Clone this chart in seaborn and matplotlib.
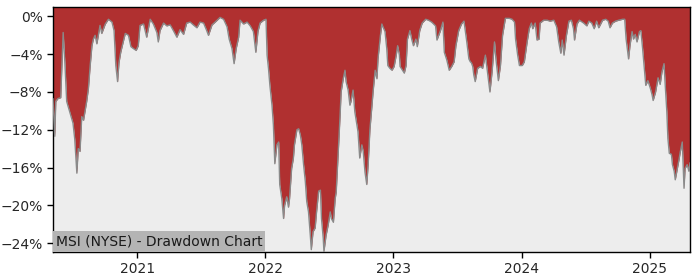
import matplotlib
matplotlib.use("Agg")
import matplotlib.pyplot as plt
import matplotlib.dates as mdates
from matplotlib.ticker import FuncFormatter
import seaborn as sns
import pandas as pd

title = "MSI (NYSE) - Drawdown Chart"

dates = [
    "2020-05-06", "2020-05-11", "2020-05-14", "2020-05-20", "2020-05-28", "2020-06-04", "2020-06-09",
    "2020-06-14", "2020-06-24", "2020-07-02", "2020-07-07", "2020-07-13", "2020-07-17", "2020-07-22",
    "2020-07-27", "2020-08-01", "2020-08-05", "2020-08-10", "2020-08-15", "2020-08-20", "2020-08-25",
    "2020-08-29", "2020-09-03", "2020-09-08", "2020-09-17", "2020-09-22", "2020-10-02", "2020-10-11",
    "2020-10-21", "2020-10-27", "2020-11-01", "2020-11-06", "2020-11-10", "2020-11-15", "2020-11-22",
    "2020-11-28", "2020-12-07", "2020-12-14", "2020-12-21", "2020-12-29",
    "2021-01-04", "2021-01-09", "2021-01-19", "2021-01-28", "2021-02-07", "2021-02-16", "2021-02-26",
    "2021-03-02", "2021-03-07", "2021-03-17", "2021-03-26", "2021-04-05", "2021-04-14", "2021-04-24",
    "2021-05-03", "2021-05-13", "2021-05-22", "2021-06-01", "2021-06-10", "2021-06-20", "2021-06-29",
    "2021-07-09", "2021-07-18", "2021-07-23", "2021-08-02", "2021-08-11", "2021-08-25", "2021-09-04",
    "2021-09-14", "2021-09-20", "2021-09-28", "2021-10-04", "2021-10-10", "2021-10-17", "2021-10-21",
    "2021-10-31", "2021-11-10", "2021-11-19", "2021-11-28", "2021-12-05", "2021-12-11", "2021-12-17",
    "2021-12-27",
    "2022-01-03", "2022-01-06", "2022-01-10", "2022-01-14", "2022-01-20", "2022-01-24", "2022-01-28",
    "2022-02-03", "2022-02-08", "2022-02-11", "2022-02-17", "2022-02-22", "2022-02-25", "2022-03-03",
    "2022-03-08", "2022-03-11", "2022-03-17", "2022-03-22", "2022-03-25", "2022-04-01", "2022-04-06",
    "2022-04-11", "2022-04-15", "2022-04-20", "2022-04-25", "2022-04-29", "2022-05-04", "2022-05-09",
    "2022-05-12", "2022-05-17", "2022-05-23", "2022-05-27", "2022-06-02", "2022-06-07", "2022-06-10",
    "2022-06-15", "2022-06-17", "2022-06-23", "2022-06-29", "2022-07-05", "2022-07-08", "2022-07-14",
    "2022-07-19", "2022-07-22", "2022-07-28", "2022-08-02", "2022-08-05", "2022-08-11", "2022-08-16",
    "2022-08-19", "2022-08-25", "2022-08-30", "2022-09-02", "2022-09-08", "2022-09-13", "2022-09-16",
    "2022-09-22", "2022-09-27", "2022-10-03", "2022-10-07", "2022-10-12", "2022-10-17", "2022-10-21",
    "2022-10-26", "2022-11-01", "2022-11-04", "2022-11-10", "2022-11-15", "2022-11-18", "2022-11-25",
    "2022-11-29", "2022-12-02", "2022-12-08", "2022-12-13", "2022-12-16", "2022-12-22", "2022-12-28",
    "2023-01-03", "2023-01-09", "2023-01-13", "2023-01-18", "2023-01-20", "2023-01-27", "2023-02-01",
    "2023-02-06", "2023-02-10", "2023-02-17", "2023-02-22", "2023-02-27", "2023-03-06", "2023-03-10",
    "2023-03-17", "2023-03-24", "2023-04-03", "2023-04-11", "2023-04-20", "2023-05-01", "2023-05-05",
    "2023-05-15", "2023-05-22", "2023-05-26", "2023-06-02", "2023-06-09", "2023-06-16", "2023-06-23",
    "2023-06-28", "2023-07-06", "2023-07-14", "2023-07-21", "2023-07-28", "2023-08-04", "2023-08-08",
    "2023-08-11", "2023-08-15", "2023-08-18", "2023-08-22", "2023-08-29", "2023-09-06", "2023-09-12",
    "2023-09-20", "2023-09-26", "2023-10-03", "2023-10-09", "2023-10-16", "2023-10-20", "2023-10-27",
    "2023-11-02", "2023-11-08", "2023-11-16", "2023-11-27", "2023-12-05", "2023-12-12", "2023-12-15",
    "2023-12-21", "2023-12-26",
    "2024-01-03", "2024-01-09", "2024-01-17", "2024-01-23", "2024-01-29", "2024-02-02", "2024-02-09",
    "2024-02-14", "2024-02-20", "2024-02-23", "2024-03-04", "2024-03-14", "2024-03-22", "2024-04-02",
    "2024-04-10", "2024-04-16", "2024-04-22", "2024-04-26", "2024-05-01", "2024-05-08", "2024-05-15",
    "2024-05-22", "2024-05-28", "2024-05-31", "2024-06-07", "2024-06-14", "2024-06-26", "2024-07-05",
    "2024-07-11", "2024-07-19", "2024-07-26", "2024-08-02", "2024-08-08", "2024-08-19", "2024-08-28",
    "2024-09-04", "2024-09-09", "2024-09-16", "2024-09-25", "2024-10-04", "2024-10-15", "2024-10-21",
    "2024-10-25", "2024-11-01", "2024-11-05", "2024-11-11", "2024-11-15", "2024-11-20", "2024-11-25",
    "2024-12-02", "2024-12-06", "2024-12-11", "2024-12-16", "2024-12-20", "2024-12-26",
    "2025-01-02", "2025-01-07", "2025-01-10", "2025-01-17", "2025-01-24", "2025-01-30", "2025-02-04",
    "2025-02-10", "2025-02-13", "2025-02-18", "2025-02-21", "2025-02-25", "2025-03-03", "2025-03-06",
    "2025-03-11", "2025-03-14", "2025-03-20", "2025-03-25", "2025-03-28", "2025-04-03", "2025-04-08",
    "2025-04-11", "2025-04-17", "2025-04-22", "2025-04-25",
]

drawdown = [
    -8.7, -12.7, -9.0, -8.7, -8.6, -1.7, -5.0,
    -9.0, -10.3, -11.3, -13.0, -16.6, -14.0, -14.3,
    -10.6, -11.0, -10.1, -9.0, -7.6, -5.2, -3.1,
    -2.4, -2.0, -2.9, -0.95, -1.8, -0.8, -0.3,
    -0.6, -1.5, -5.2, -6.9, -4.9, -3.8, -2.7,
    -1.8, -2.0, -3.2, -3.4, -3.6,
    -3.1, -0.95, -0.8, -2.2, -0.3, -0.8, -1.7,
    -2.7, -1.5, -0.7, -1.0, -0.9, -1.5, -2.2,
    -1.4, -1.9, -0.7, -0.6, -0.9, -1.2, -0.6,
    -0.7, -1.5, -2.0, -0.9, -0.6, -0.1, -0.3,
    -1.1, -2.4, -3.4, -5.0, -3.4, -2.2, -0.4,
    -0.8, -0.6, -1.0, -1.6, -3.8, -1.6, -0.7,
    -0.4,
    -0.3, -4.1, -5.5, -7.3, -9.4, -11.5, -15.6,
    -13.6, -13.3, -17.8, -19.3, -21.4, -20.0, -19.1,
    -20.2, -19.3, -16.1, -15.0, -13.6, -12.0, -11.9,
    -12.6, -13.6, -15.7, -17.5, -19.6, -20.7, -23.1,
    -24.7, -22.8, -22.4, -20.7, -18.5, -18.4, -21.4,
    -23.5, -24.9, -23.2, -22.1, -20.7, -21.4, -21.8,
    -19.3, -18.6, -14.3, -10.5, -8.0, -6.6, -5.7,
    -6.9, -7.8, -9.4, -9.0, -7.8, -10.1, -10.8,
    -12.2, -15.0, -13.6, -14.3, -16.5, -17.8, -15.7,
    -12.0, -9.4, -8.0, -5.7, -6.6, -4.5, -2.0,
    -0.8, -1.1, -1.6, -3.4, -5.2, -5.5, -5.7,
    -5.3, -4.1, -3.1, -4.1, -5.3, -5.7, -6.0,
    -5.2, -2.4, -1.5, -2.4, -3.1, -2.4, -3.2,
    -1.5, -0.7, -0.3, -0.4, -0.6, -1.0, -2.5,
    -1.5, -0.6, -3.8, -4.6, -5.7, -5.3, -4.8,
    -3.1, -1.5, -0.8, -0.5, -2.4, -4.5, -4.8,
    -4.9, -5.3, -6.2, -6.9, -5.5, -5.3, -5.5,
    -4.1, -5.9, -8.0, -5.9, -2.7, -4.5, -6.8,
    -5.2, -2.0, -0.2, -0.2, -0.3, -0.6, -2.4,
    -4.1, -5.2,
    -5.2, -4.8, -2.7, -1.3, -0.7, -1.3, -0.7,
    -2.5, -2.4, -0.7, -0.4, -0.4, -0.5, -0.4,
    -1.1, -2.7, -3.9, -2.5, -4.1, -2.0, -0.5,
    -0.4, -1.3, -2.5, -0.8, -0.4, -0.7, -1.0,
    -0.5, -0.7, -1.3, -0.5, -1.2, -0.4, -0.3,
    -0.5, -1.2, -0.7, -0.5, -0.4, -0.3, -0.3,
    -2.4, -4.5, -3.1, -1.6, -2.4, -1.9, -2.7,
    -1.6, -1.5, -3.4, -5.5, -7.3, -6.8,
    -7.6, -8.3, -8.9, -8.0, -6.5, -7.2, -5.9,
    -5.0, -7.0, -10.1, -12.9, -14.5, -14.6, -15.7,
    -16.4, -17.3, -16.1, -15.1, -14.4, -13.3, -18.2,
    -16.1, -15.7, -16.4, -15.5,
]

y_ticks = [0, -4, -8, -12, -16, -20, -24]

df = pd.DataFrame({"date": pd.to_datetime(dates), "drawdown": drawdown})

sns.set_style("white")
fig, ax = plt.subplots(figsize=(7.0, 2.8), dpi=100)
fig.subplots_adjust(left=0.0757, right=0.9857, top=0.975, bottom=0.10)
ax.set_facecolor("#ededed")

y_top = 1.0
y_bot = min(drawdown) - 0.05
ax.fill_between(df["date"], df["drawdown"], y_top, color="#b03030", linewidth=0, zorder=2)
sns.lineplot(data=df, x="date", y="drawdown", ax=ax, color="#8a8a8a", linewidth=1.0, zorder=3)

ax.set_xlim(df["date"].min(), df["date"].max())
ax.set_ylim(y_bot, y_top)
ax.set_yticks(y_ticks)
ax.yaxis.set_major_formatter(FuncFormatter(lambda v, p: f"{v:.0f}%".replace("-", "\u2212")))
ax.xaxis.set_major_locator(mdates.YearLocator())
ax.xaxis.set_major_formatter(mdates.DateFormatter("%Y"))
ax.set_xlabel("")
ax.set_ylabel("")
ax.grid(False)
for s in ax.spines.values():
    s.set_visible(True)
    s.set_color("black")
    s.set_linewidth(1.0)
ax.tick_params(axis="both", which="both", length=4, width=1, color="black", labelsize=10, left=True, bottom=True)

ax.annotate(title, xy=(0, 0), xycoords="axes fraction", xytext=(2, 2.5), textcoords="offset points",
            ha="left", va="bottom", fontsize=10, color="#1a1a1a",
            bbox=dict(facecolor="#b4b4b4", edgecolor="none", pad=2.2), zorder=5)

fig.savefig("out.png", dpi=100)
